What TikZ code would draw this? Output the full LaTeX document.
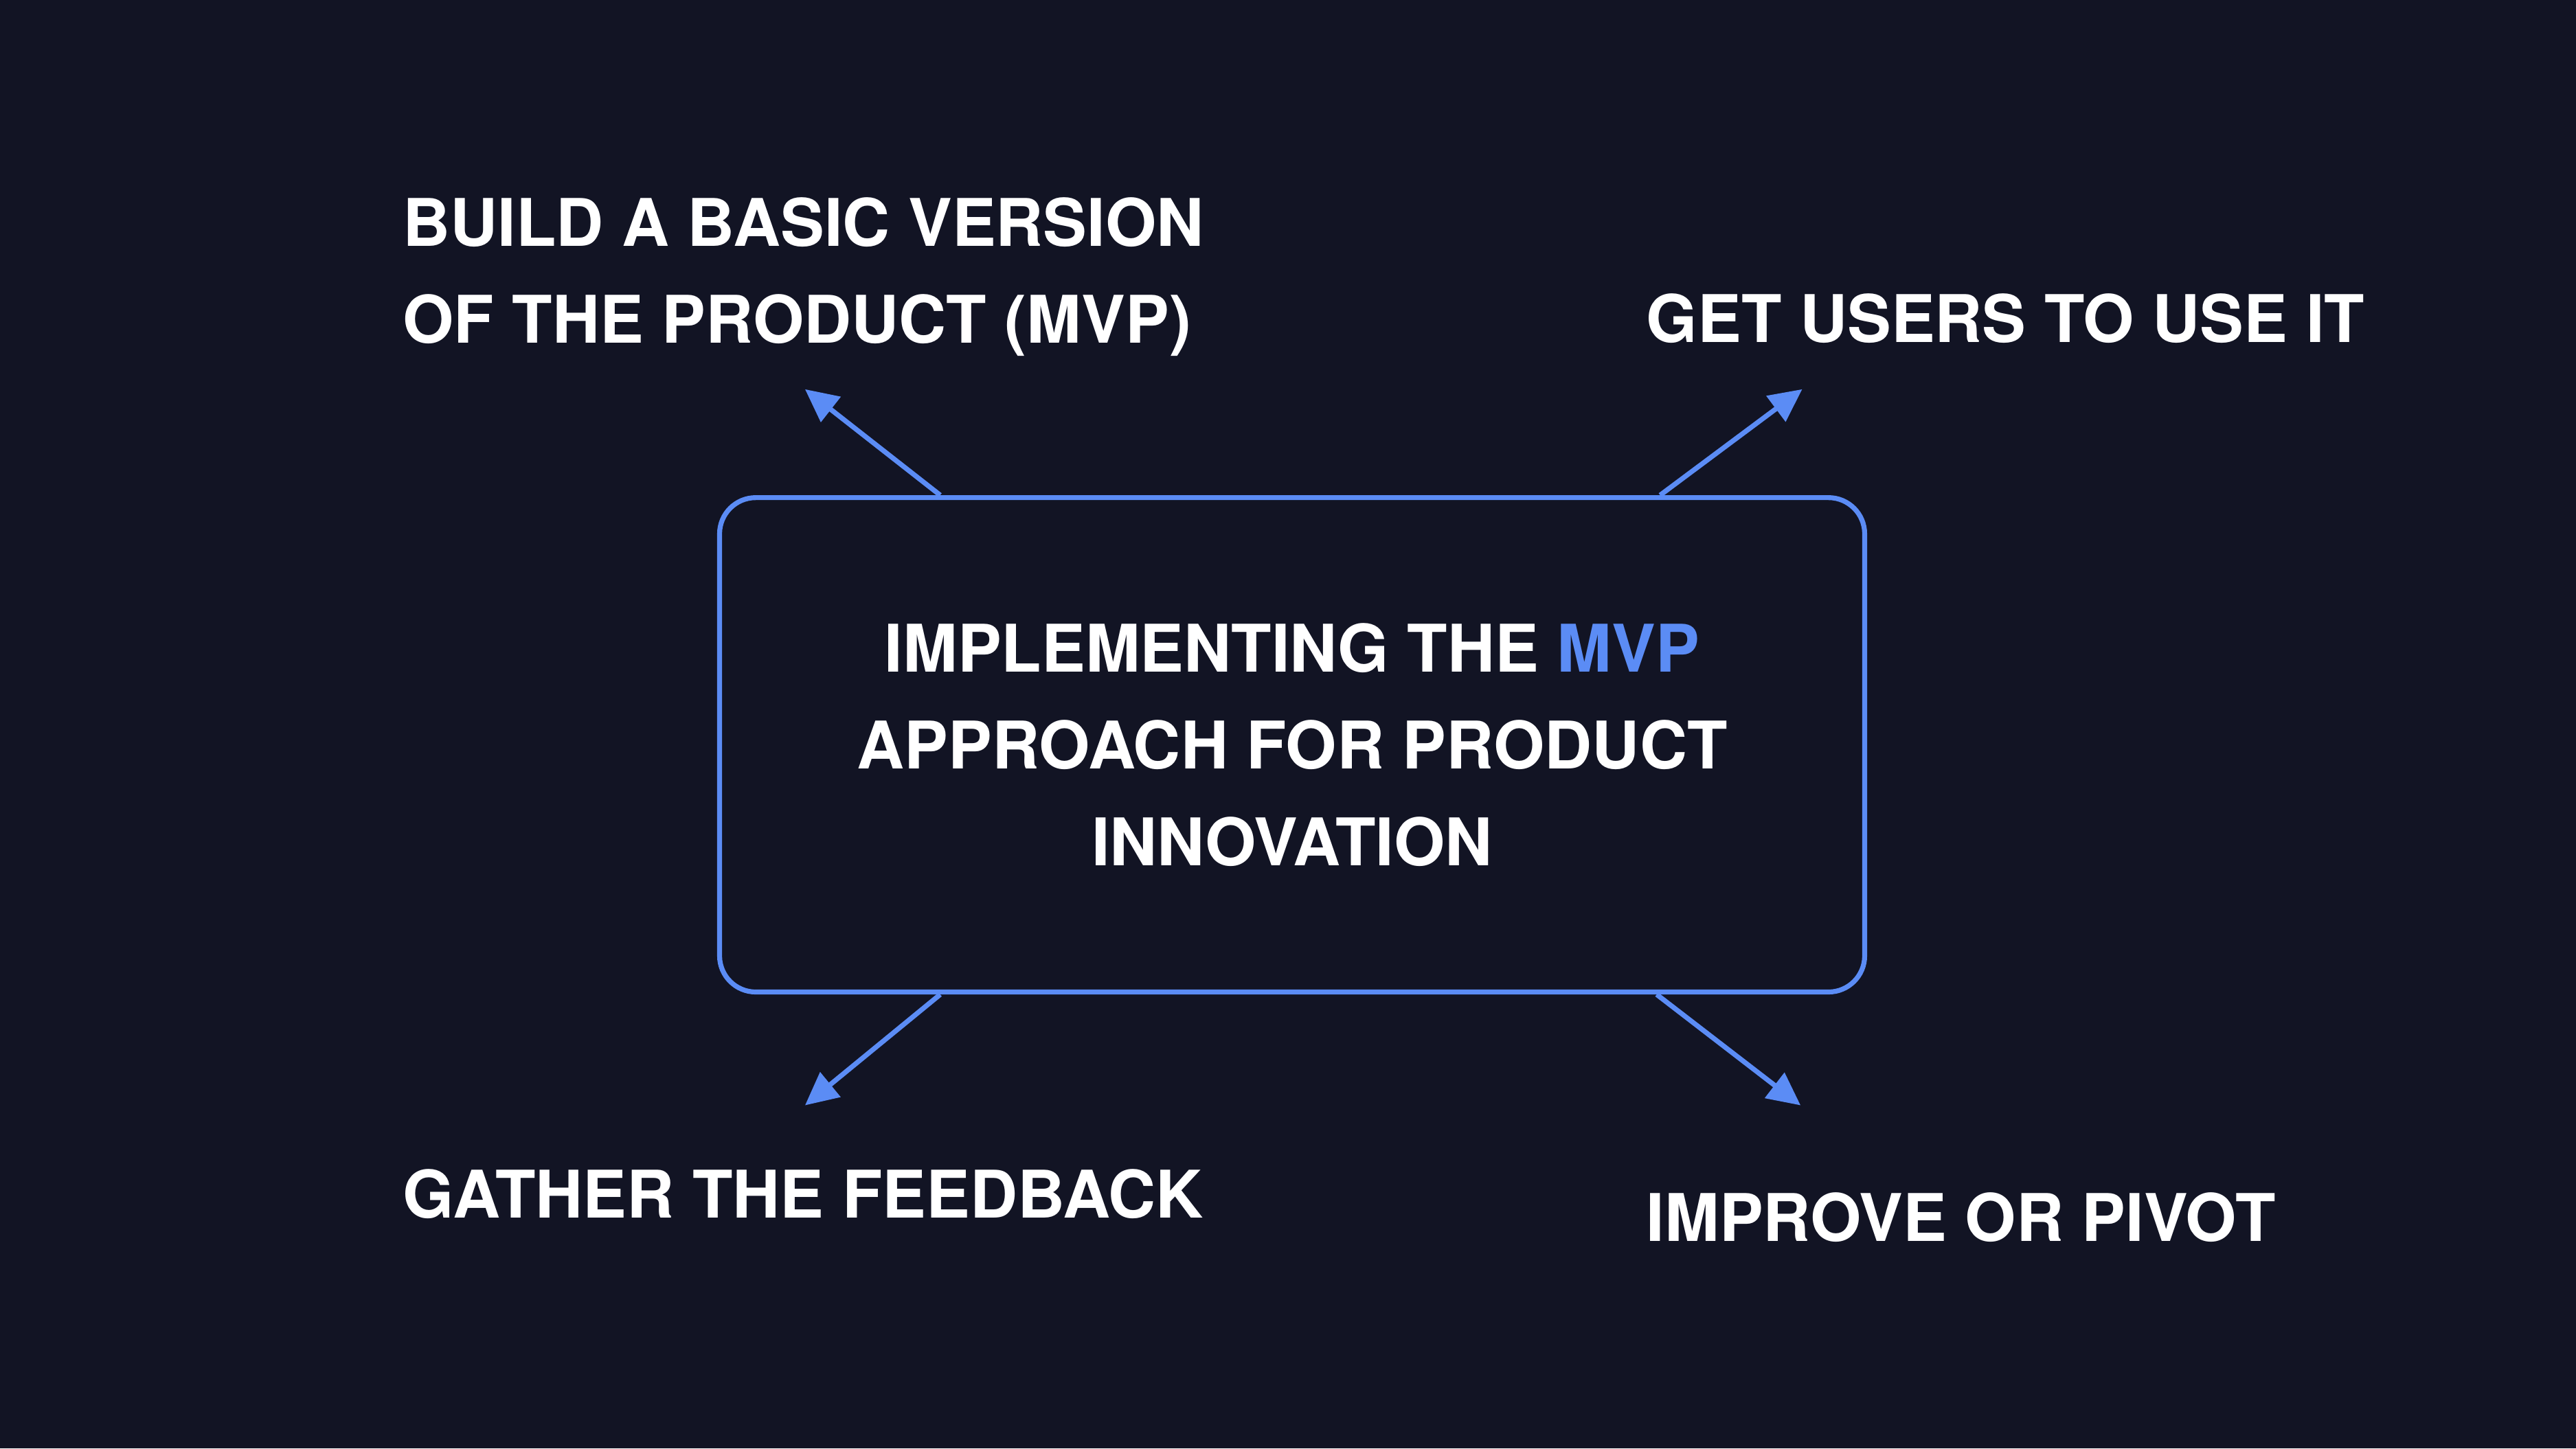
\documentclass[tikz,border=0pt]{standalone}
\usepackage{fontspec}
\setmainfont{TeX Gyre Heros}
\usetikzlibrary{arrows.meta,positioning,calc}
\definecolor{bgdark}{HTML}{121424}
\definecolor{mvpblue}{HTML}{5B8CF5}
\tikzset{
  label text/.style={text=white,font=\fontsize{40}{59}\selectfont\bfseries,inner sep=0pt,align=left,anchor=west},
  main box/.style={draw=mvpblue,line width=3pt,rounded corners=22pt},
  step arrow/.style={draw=mvpblue,line width=3pt,-{Triangle[length=20pt,width=19pt]}}
}
\begin{document}
\begin{tikzpicture}[x=1pt,y=-1pt]
\fill[bgdark] (0,0) rectangle (1568,882);
\useasboundingbox (0,0) rectangle (1568,882);

% centre box
\node[main box,minimum width=697pt,minimum height=301pt,text=white,font=\fontsize{40}{59}\selectfont\bfseries,align=center] (box) at (786.5,453.5)
  {IMPLEMENTING THE \textcolor{mvpblue}{MVP}\\APPROACH FOR PRODUCT\\INNOVATION};

% labels
\node[label text] (build) at (245,168.5) {BUILD A BASIC VERSION\\OF THE PRODUCT (MVP)};
\node[label text] (users) at (1002,194) {GET USERS TO USE IT};
\node[label text] (gather) at (245,727) {GATHER THE FEEDBACK};
\node[label text] (improve) at (1002,741) {IMPROVE OR PIVOT};

% arrow ends
\coordinate (tl) at (490,237);
\coordinate (tr) at (1097,237);
\coordinate (bl) at (490,673);
\coordinate (br) at (1096,673);

\draw[step arrow] ($(box.north west)!0.194!(box.north east)$) -- (tl);
\draw[step arrow] ($(box.north west)!0.82!(box.north east)$) -- (tr);
\draw[step arrow] ($(box.south west)!0.194!(box.south east)$) -- (bl);
\draw[step arrow] ($(box.south west)!0.817!(box.south east)$) -- (br);
\end{tikzpicture}
\end{document}
